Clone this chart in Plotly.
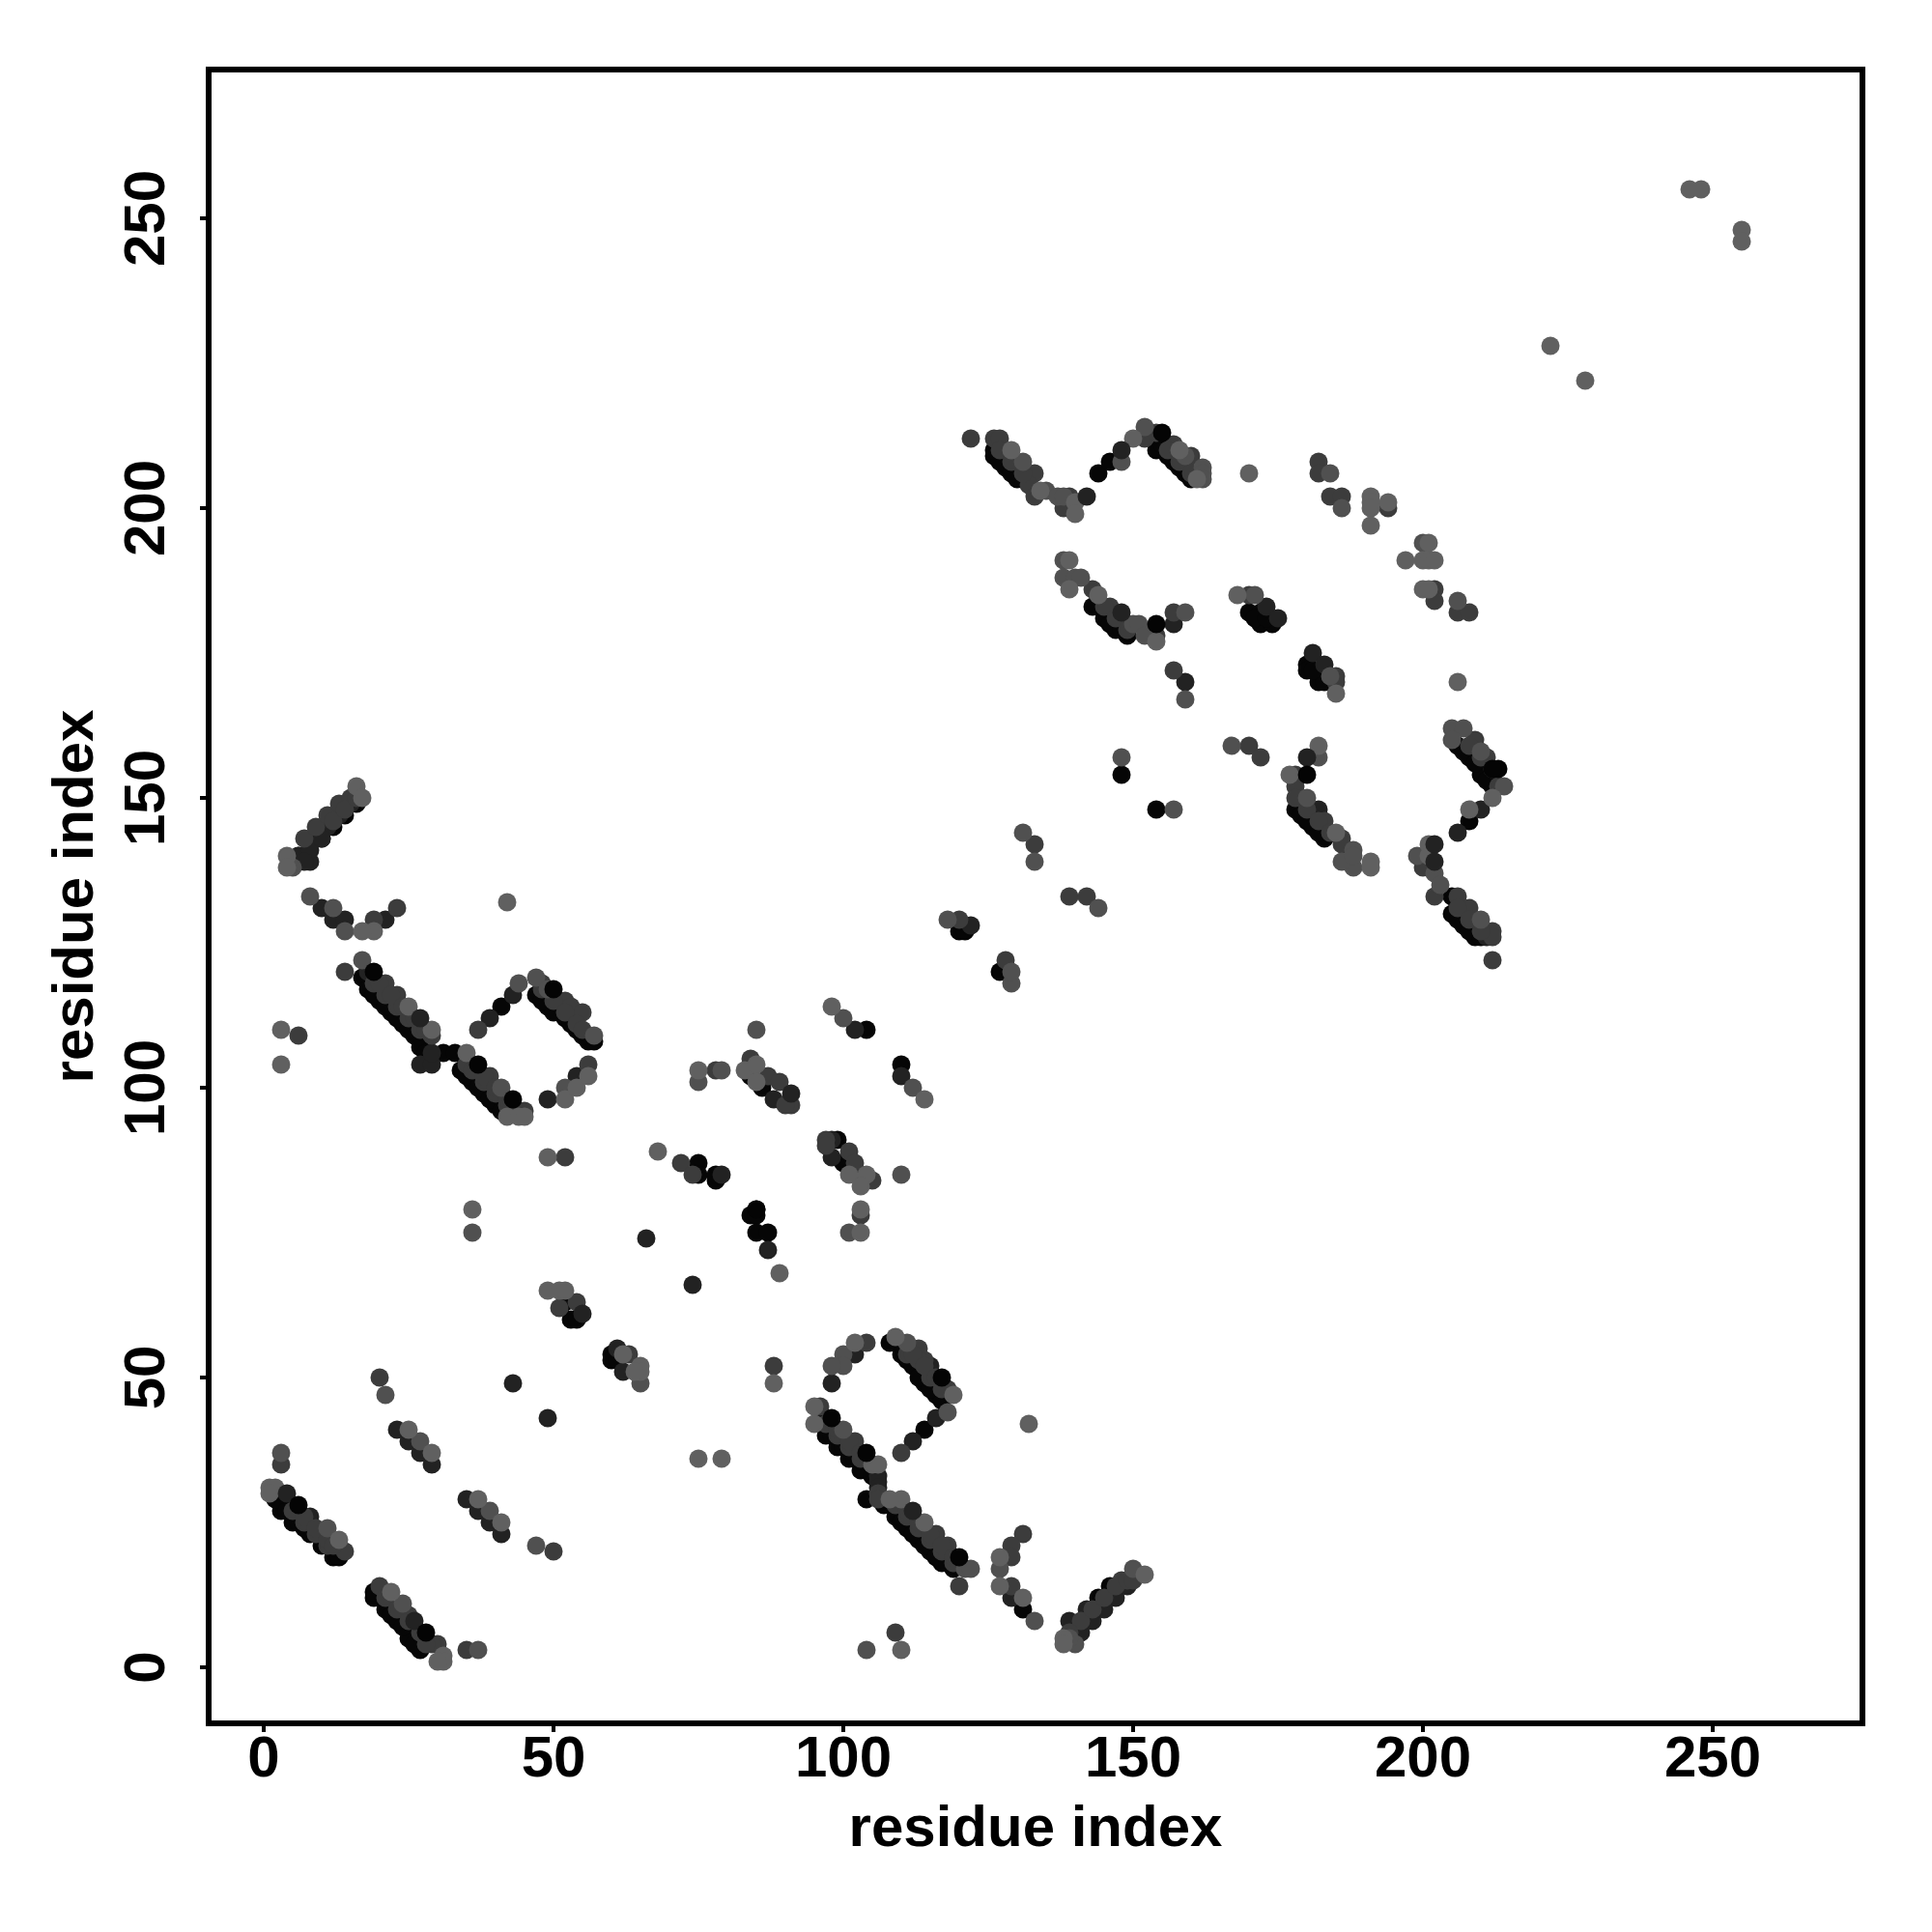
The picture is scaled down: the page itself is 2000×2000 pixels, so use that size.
import plotly.graph_objects as go

black_x = [3,5,8,10,12,13,2,4,6,7,19,19,21,23,25,27,22,24,26,53,54,52,60,60,61,108,110,112,114,116,117,111,113,115,97,99,101,103,96,98,100,102,105,114,104,109,111,113,115,117,119,107,110,112,114,116,118,131,146,144,140,17,18,20,22,24,26,27,19,21,23,25,28,31,33,34,36,38,40,42,35,37,39,41,47,49,52,54,56,57,48,50,53,55,41,14,12,10,16,84,86,99,100,103,85,84,85,85,87,75,75,78,78,104,110,126,128,130,127,129,126,144,146,154,157,159,155,156,158,160,145,147,149,143,146,148,170,172,174,172,171,173,180,180,182,183,181,178,179,181,183,180,182,206,208,210,212,207,209,211,208,205,205,207,209,206,208,210,127,120,121,148,154]
black_y = [27,25,23,21,19,19,29,27,25,24,12,13,10,8,5,3,9,7,4,60,60,63,54,53,53,56,54,52,49,47,46,53,50,48,40,38,36,34,42,40,38,36,33,41,29,26,24,22,20,18,17,28,25,23,21,19,18,10,14,12,6,119,117,115,113,111,109,107,116,114,112,110,106,106,106,103,101,99,97,96,102,100,98,96,116,114,112,110,108,108,115,113,111,109,114,147,145,143,149,102,100,91,87,85,79,78,78,75,75,87,85,84,85,110,104,209,207,205,208,206,210,206,208,210,208,206,211,209,207,205,181,179,178,183,180,179,182,180,180,182,181,181,173,172,170,170,172,148,147,145,143,146,144,159,157,154,152,158,156,153,146,133,130,128,126,129,127,126,120,127,127,154,148]

dark_x = [43,49,23,25,27,29,35,37,39,41,8,98,102,112,116,129,8,10,12,14,21,49,27,29,29,54,39,43,66,74,87,102,110,79,88,98,98,173,175,181,183,182,206,210,62,61,115,139,142,143,147,149,151,122,159,18,6,211,157,141,145,106,106,106,9,11,13,15,6,8,10,7]
dark_y = [49,43,41,39,37,35,29,27,25,23,26,49,54,39,43,12,139,131,129,129,129,98,104,104,106,102,112,116,74,66,72,110,102,85,98,91,88,183,181,175,173,148,144,148,51,55,52,8,10,8,12,14,16,128,170,120,140,126,180,6,10,33,32,31,143,145,147,149,140,141,143,139]

mid_x = [20,35,54,63,51,3,88,104,113,114,118,102,110,131,129,129,129,120,109,148,14,23,19,21,23,35,39,45,56,37,48,52,53,55,52,6,72,74,78,84,87,89,91,90,97,97,101,102,105,103,122,126,127,133,132,133,139,138,152,154,157,160,170,154,143,146,157,157,182,182,184,186,194,202,202,206,208,170,185,185,178,178,178,183,186,172,209,211,213,200,202,206,208,212,212,212,133,139,142,128,120,7,9,11,13,15,14,20,25,30,29,96,118,116,50,106,106,141,143,145,147,149,139,150,12,14,16,
         109,111,113,115,117,119,111,113,115,117,119,97,99,101,103,99,101,103,111,113,115,117,112,114,116,19,21,23,25,27,20,22,24,26,28,36,38,40,42,38,40,42,48,50,52,54,55,127,129,131,145,147,149,156,158,160,180,182,184,186,208,210,212,206,208,210,5,7,9,11,7,9,11,12,21,23,25,27,29,28]
mid_y = [50,3,63,54,62,35,52,56,55,53,48,39,37,23,21,19,14,14,6,15,120,131,129,118,116,104,102,96,104,110,118,115,114,113,88,109,87,85,103,105,102,101,97,97,91,90,89,87,84,78,212,212,212,206,204,202,202,200,212,213,211,209,159,178,186,183,182,172,208,206,202,202,200,186,184,182,182,185,171,170,154,152,150,146,143,157,160,157,152,138,133,133,131,127,126,122,142,133,133,122,129,143,145,147,149,150,20,14,9,4,109,45,21,23,20,30,29,8,10,12,14,15,6,15,146,148,150,
         28,26,24,22,20,18,27,25,23,21,19,42,40,38,36,41,39,37,54,53,50,48,54,52,50,118,116,114,112,110,118,116,114,112,110,103,101,99,97,102,100,98,117,115,113,111,110,210,208,206,183,181,179,210,208,206,148,146,144,142,159,157,155,131,129,127,27,25,23,21,26,24,22,21,12,10,8,6,4,4]

grey_x = [21,3,27,39,47,37,11,24,65,100,100,98,111,118,100,121,122,127,133,140,150,104,8,12,14,17,41,52,44,47,49,57,36,75,79,85,100,112,101,110,129,131,135,137,138,148,152,159,162,162,162,138,138,140,141,150,151,152,159,184,186,200,206,171,184,182,180,188,188,186,188,210,205,207,205,214,199,202,203,210,5,167,157,131,133,144,118,159,148,129,139]
grey_y = [47,37,39,27,21,3,24,11,49,54,52,52,56,44,41,17,17,17,8,4,17,3,133,131,127,122,100,100,118,119,117,109,75,101,103,110,112,100,75,85,118,208,203,202,202,208,214,209,207,206,205,191,188,188,188,180,180,178,182,206,200,194,184,185,171,157,150,141,138,139,140,158,162,162,160,152,140,137,135,129,138,159,148,144,139,131,129,167,157,120,5]

light_x = [25,29,37,41,13,1,2,1,22,31,31,30,49,51,52,62,65,65,64,75,79,89,88,102,109,119,95,95,105,106,110,108,114,127,127,131,132,110,138,138,152,16,17,4,4,42,19,17,25,29,35,42,44,45,52,54,56,3,3,49,36,98,114,75,83,85,85,68,104,101,103,103,103,129,134,140,140,150,158,161,170,139,139,144,154,191,191,191,191,194,201,197,200,201,202,200,201,206,168,185,182,177,185,191,191,208,212,201,201,246,248,255,255,222,228]
light_y = [41,37,29,25,22,31,31,30,13,2,1,1,65,65,65,54,52,51,51,36,36,68,49,56,57,47,45,42,35,35,29,29,25,19,14,12,42,3,5,4,16,152,150,140,138,132,127,127,114,110,106,95,95,95,98,100,102,110,104,88,79,114,98,103,103,104,101,89,85,85,83,79,75,210,203,201,199,212,210,205,206,191,186,185,177,202,201,200,197,201,194,191,191,191,191,186,186,170,185,168,159,154,144,139,138,148,150,142,140,255,255,248,246,228,222]

top_dark_x = [4,26,55,27,91,148,142,148,202,202,112,180]
top_dark_y = [30,8,61,112,99,210,202,182,142,139,27,157]

top_black_x = [6,28,19,37,43,50,104,117,120,155,154,180,213,212,98,85]
top_black_y = [28,6,120,104,98,117,37,50,19,213,180,154,155,155,43,79]

tick_values = [0, 50, 100, 150, 200, 250]
axis_label = "residue index"

layers = [
    (black_x, black_y, "#060606"),
    (dark_x, dark_y, "#222222"),
    (mid_x, mid_y, "#3c3c3c"),
    (grey_x, grey_y, "#505050"),
    (light_x, light_y, "#606060"),
    (top_dark_x, top_dark_y, "#222222"),
    (top_black_x, top_black_y, "#040404"),
]

fig = go.Figure()
for xs, ys, colour in layers:
    fig.add_trace(go.Scatter(x=xs, y=ys, mode="markers",
                             marker=dict(size=19, color=colour, line=dict(width=0))))

tick_font = dict(family="Liberation Sans", size=60, color="black", weight="bold")
title_font = dict(family="Liberation Sans", size=60, color="black", weight="bold")
axis = dict(tickvals=tick_values, showgrid=False, zeroline=False, showline=True,
            linecolor="black", linewidth=6, mirror=True, ticks="outside",
            ticklen=6, tickwidth=4, tickcolor="black", tickfont=tick_font,
            title=dict(text=axis_label, font=title_font))
fig.update_xaxes(range=[-9.0, 275.33], ticklabelstandoff=-26, title_standoff=20, **axis)
fig.update_yaxes(range=[-9.17, 275.17], tickangle=-90, ticklabelstandoff=13,
                 ticklabelshift=9, title_standoff=2, **axis)
fig.update_layout(width=2000, height=2000, showlegend=False,
                  plot_bgcolor="white", paper_bgcolor="white",
                  margin=dict(l=219, r=75, t=75, b=219, autoexpand=False))
fig.write_html("out.html", post_script="document.body.style.margin='0';",
               config=dict(displayModeBar=False))
